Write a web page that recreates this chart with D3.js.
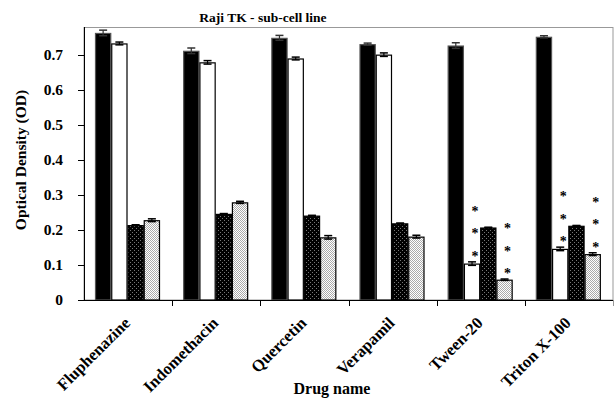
<!DOCTYPE html>
<html><head><meta charset="utf-8">
<script src="https://cdn.jsdelivr.net/npm/d3@7"></script>
<style>body{margin:0;background:#fff}svg{display:block}text{font-family:"Liberation Serif","Times New Roman",serif;font-weight:bold;fill:#000}</style>
</head><body>
<svg id="c" width="615" height="399"></svg>
<script>
const categories = ["Fluphenazine","Indomethacin","Quercetin","Verapamil","Tween-20","Triton X-100"];
const seriesNames = ["A","B","C","D"];
const blackVals = [0.763, 0.712, 0.749, 0.731, 0.727, 0.752];
const whiteVals = [0.733, 0.679, 0.690, 0.701, 0.104, 0.146];
const darkVals  = [0.214, 0.246, 0.241, 0.219, 0.207, 0.212];
const lightVals = [0.228, 0.279, 0.179, 0.181, 0.058, 0.131];
const blackErr = [0.008, 0.008, 0.007, 0.003, 0.008, 0.003];
const whiteErr = [0.004, 0.005, 0.004, 0.005, 0.005, 0.005];
const darkErr  = [0.001, 0.001, 0.001, 0.001, 0.001, 0.001];
const lightErr = [0.004, 0.003, 0.005, 0.004, 0.002, 0.004];
const starsB = [0,0,0,0,3,3];
const starsD = [0,0,0,0,3,3];
const yTicks = [0,0.1,0.2,0.3,0.4,0.5,0.6,0.7];
const yTickLabels = ["0","0.1","0.2","0.3","0.4","0.5","0.6","0.7"];
const title = "Raji TK - sub-cell line";
const xTitle = "Drug name";
const yTitle = "Optical Density (OD)";

const svg = d3.select("#c");
const defs = svg.append("defs");
const pd = defs.append("pattern").attr("id","pdark").attr("width",4).attr("height",4).attr("patternUnits","userSpaceOnUse");
pd.append("rect").attr("width",4).attr("height",4).attr("fill","#000");
pd.append("rect").attr("x",0).attr("y",0).attr("width",1).attr("height",1).attr("fill","#777");
pd.append("rect").attr("x",2).attr("y",2).attr("width",1).attr("height",1).attr("fill","#777");
const pl = defs.append("pattern").attr("id","plight").attr("width",2).attr("height",2).attr("patternUnits","userSpaceOnUse");
pl.append("rect").attr("width",2).attr("height",2).attr("fill","#fff");
pl.append("rect").attr("x",0).attr("y",0).attr("width",1).attr("height",1).attr("fill","#aaa");
pl.append("rect").attr("x",1).attr("y",1).attr("width",1).attr("height",1).attr("fill","#aaa");

const L = 84, R = 613, T = 27, B = 300;
const y = d3.scaleLinear().domain([0,0.78]).range([B,T]);
const x0 = d3.scaleBand().domain(categories).range([L,R]);
const x1 = d3.scaleBand().domain(seriesNames).range([11,76]);

svg.append("rect").attr("x",L).attr("y",T+0.5).attr("width",R-L).attr("height",B-T-0.5)
  .attr("fill","none").attr("stroke","#999").attr("stroke-width",1);

const series = [
  {name:"A", vals:blackVals, err:blackErr, fill:"#000", stroke:"#555", stars:null},
  {name:"B", vals:whiteVals, err:whiteErr, fill:"#fff", stroke:"#000", stars:starsB},
  {name:"C", vals:darkVals, err:darkErr, fill:"url(#pdark)", stroke:"#000", stars:null},
  {name:"D", vals:lightVals, err:lightErr, fill:"url(#plight)", stroke:"#000", stars:starsD}
];

series.forEach(s => {
  const g = svg.append("g");
  categories.forEach((c,i) => {
    const bx = x0(c) + x1(s.name), bw = x1.bandwidth();
    g.append("rect").attr("x",bx+0.5).attr("y",y(s.vals[i])+0.5).attr("width",bw-1).attr("height",B-y(s.vals[i])-0.5)
      .attr("fill",s.fill).attr("stroke",s.stroke).attr("stroke-width",1.2);
    const cx = bx + bw/2;
    const yt = y(s.vals[i]+s.err[i]), yb = y(s.vals[i]-s.err[i]);
    const ec = s.name==="A" ? "#333" : "#000";
    g.append("line").attr("x1",cx).attr("x2",cx).attr("y1",yt).attr("y2",yb).attr("stroke",ec).attr("stroke-width",1.2);
    g.append("line").attr("x1",cx-4).attr("x2",cx+4).attr("y1",yt).attr("y2",yt).attr("stroke",ec).attr("stroke-width",1.5);
    g.append("line").attr("x1",cx-4).attr("x2",cx+4).attr("y1",yb).attr("y2",yb).attr("stroke",ec).attr("stroke-width",1.5);
    if (s.stars) {
      for (let k=0;k<s.stars[i];k++) {
        g.append("text").attr("x",cx+3).attr("y",yt-8-22.4*k+7)
          .attr("text-anchor","middle").attr("font-size",14).text("*");
      }
    }
  });
});

const ya = svg.append("g");
ya.append("line").attr("x1",L+0.5).attr("x2",L+0.5).attr("y1",T).attr("y2",B+0.5).attr("stroke","#000");
yTicks.forEach((t,i) => {
  ya.append("line").attr("x1",L-6).attr("x2",L).attr("y1",Math.round(y(t))+0.5).attr("y2",Math.round(y(t))+0.5).attr("stroke","#000");
  ya.append("text").attr("x",L-21).attr("y",y(t)).attr("dy","0.33em").attr("text-anchor","end").attr("font-size",15.5).text(yTickLabels[i]);
});
const xa = svg.append("g");
xa.append("line").attr("x1",L).attr("x2",R).attr("y1",B+0.5).attr("y2",B+0.5).attr("stroke","#000");
categories.forEach((c,i) => {
  const tx = Math.round(x0(c)+x0.bandwidth())+0.5;
  xa.append("line").attr("x1",tx).attr("x2",tx).attr("y1",B).attr("y2",B+6).attr("stroke",i===categories.length-1?"#999":"#000");
  const cx = x0(c)+x0.bandwidth()/2;
  xa.append("text").attr("transform",`translate(${cx+3},${B+24}) rotate(-45)`)
    .attr("text-anchor","end").attr("font-size",16.5).text(c);
});

svg.append("text").attr("x",263).attr("y",22).attr("text-anchor","middle").attr("font-size",13.5).text(title);
svg.append("text").attr("x",332).attr("y",394).attr("text-anchor","middle").attr("font-size",16).text(xTitle);
svg.append("text").attr("transform","translate(26,160) rotate(-90)").attr("text-anchor","middle").attr("font-size",15.5).text(yTitle);
</script>
</body></html>
